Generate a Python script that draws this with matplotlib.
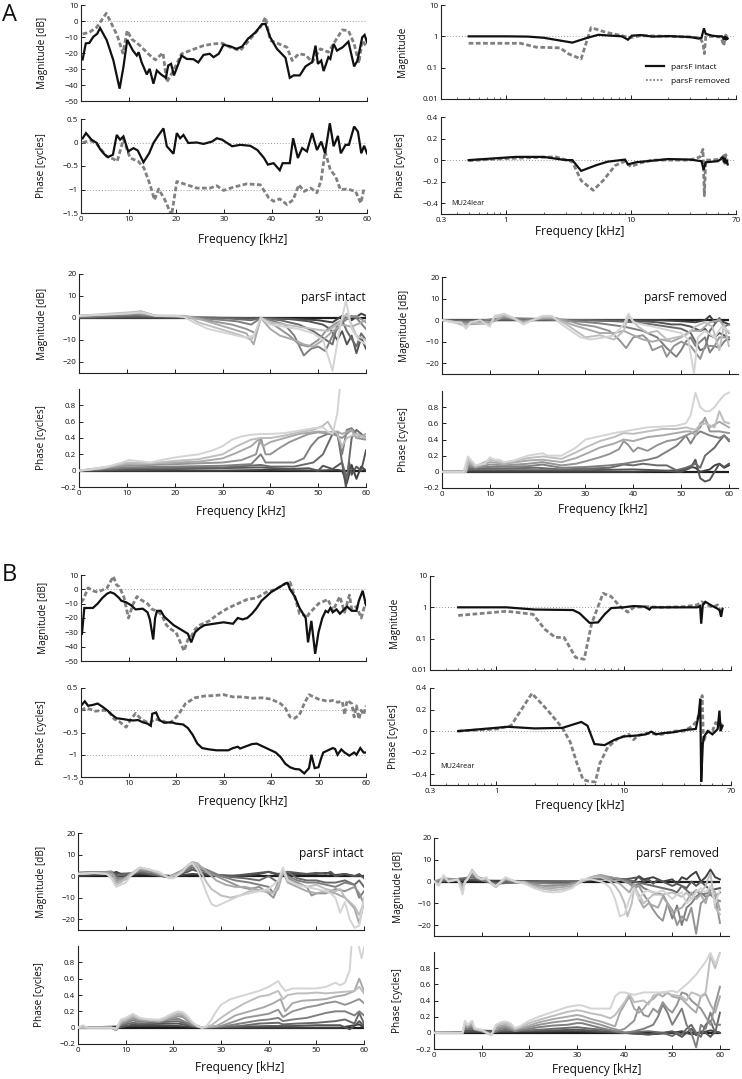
import matplotlib
matplotlib.use('Agg')
import matplotlib.pyplot as plt
from matplotlib.lines import Line2D
from matplotlib.ticker import FuncFormatter, NullLocator

plt.rcParams['font.family'] = ['Open Sans', 'DejaVu Sans']

# ---------------- DATA ----------------
FREQ_MIN, FREQ_MAX = 0, 60

# Panel A, linear frequency (kHz, value)
A_MAG_INTACT = [(0.35,-24),(1.0,-14),(1.75,-13.7),(2.6,-9.8),(3.4,-8),(4.0,-4.4),(5.4,-12),(6.8,-24.7),(8.1,-42.3),(8.9,-28.8),(9.7,-11.8),(10.9,-18.5),(11.7,-21.6),(12.1,-19.5),(12.7,-25.7),(13.8,-33.4),(14.4,-29.9),(15.2,-39.2),(15.9,-30.9),(16.8,-33.4),(17.8,-35.5),(18.3,-27.8),(18.9,-26.8),(19.5,-34),(21.1,-21.6),(22.2,-23.7),(23.6,-23.9),(24.6,-25.9),(25.7,-21.2),(27.0,-20.5),(27.8,-22.6),(28.9,-20.5),(29.9,-14.9),(31.3,-15.8),(32.6,-17.4),(33.8,-16),(35.0,-11.2),(36.6,-7.1),(38.0,-1.9),(38.7,-1.9),(39.7,-10.2),(41.1,-17.4),(42.9,-23),(43.8,-35.5),(44.6,-34),(45.9,-34),(47.1,-28.4),(48.5,-25.7),(49.2,-15.4),(49.7,-26.8),(50.4,-24.7),(50.9,-31.3),(51.9,-22.6),(52.3,-23.7),(53.0,-14.3),(53.7,-18.5),(54.9,-16.4),(56.1,-12.9),(57.3,-28.4),(58.0,-24.7),(59.0,-10.2),(59.5,-8.7),(60.0,-13.3)]
A_MAG_REMOVED = [(0.35,-8.1),(1.75,-7.1),(3.3,-3.9),(5.3,4.8),(6.1,0.2),(7.6,-9.1),(8.8,-20.1),(9.7,-6),(10.6,-11.2),(12.4,-15.4),(14.1,-20.5),(15.6,-24.3),(17.2,-19.9),(18.0,-38.2),(19.4,-30.9),(21.1,-20.5),(23.3,-18),(25.7,-15.4),(27.8,-14.3),(29.6,-13.9),(31.3,-16.4),(33.4,-18.5),(35.9,-9.8),(37.7,-3.5),(38.7,2.3),(39.7,-12.2),(41.5,-14.3),(43.2,-16.4),(44.3,-24.7),(45.7,-20.5),(47.1,-21.2),(48.5,-25.7),(50.2,-17.4),(51.9,-19.5),(53.4,-12.2),(54.8,-5.6),(56.1,-6),(57.3,-14.3),(58.3,-26.3),(59.0,-12.2),(60.0,-16.4)]
A_PH_INTACT = [(0.35,0.09),(1.05,0.2),(2.2,0.06),(3.3,-0.01),(4.0,-0.14),(5.0,-0.26),(5.7,-0.31),(6.7,-0.26),(7.5,0.16),(8.2,0.06),(8.9,0.13),(9.9,-0.19),(11.0,-0.12),(11.9,-0.17),(13.1,-0.42),(14.3,-0.23),(15.2,-0.01),(16.3,0.16),(17.3,0.3),(18.0,-0.08),(19.4,-0.24),(20.1,0.2),(20.8,0.09),(21.5,0.16),(22.5,-0.01),(24.3,0),(25.7,-0.03),(27.5,0.02),(28.5,0.09),(29.6,0.06),(31.7,-0.08),(33.4,-0.05),(35.5,-0.07),(37.0,-0.16),(38.4,-0.33),(39.2,-0.47),(40.4,-0.44),(41.7,-0.59),(42.3,-0.44),(43.8,-0.44),(44.5,0.09),(45.5,-0.33),(46.4,-0.12),(47.4,-0.19),(48.5,0.2),(49.5,-0.16),(50.4,0.02),(51.2,-0.23),(52.2,0.41),(53.0,-0.08),(53.9,0.14),(54.5,-0.23),(55.5,-0.05),(56.2,-0.05),(57.3,0.34),(58.1,0.23),(58.8,-0.23),(59.4,-0.07),(60.0,-0.23)]
A_PH_REMOVED = [(0.35,0),(2.0,0.04),(3.3,-0.03),(5.4,-0.3),(6.8,-0.35),(7.6,-0.4),(8.9,0.07),(10.3,-0.33),(12.0,-0.4),(13.2,-0.54),(14.5,-0.9),(15.4,-1.22),(16.3,-0.99),(17.6,-1.22),(19.0,-1.55),(20.1,-0.83),(22.2,-0.9),(24.3,-0.97),(27.1,-0.97),(28.5,-0.92),(29.9,-1.02),(32.0,-0.95),(34.8,-0.88),(37.6,-0.9),(39.4,-1.18),(40.4,-1.25),(41.7,-1.2),(43.2,-1.32),(44.5,-1.22),(45.7,-0.9),(46.8,-1.04),(48.2,-0.97),(49.5,-1.07),(50.4,-0.79),(51.2,-0.19),(52.3,-0.58),(53.4,-0.72),(54.4,-1.0),(55.9,-0.99),(57.6,-1.04),(58.7,-1.29),(59.4,-0.97)]

# Panel A, log frequency (kHz, value)
A_LOGMAG_INTACT = [(0.5,1.0),(1.0,1.0),(1.5,0.98),(2.0,0.9),(3.4,0.63),(4.5,0.9),(5.5,1.12),(7,1.05),(8.5,1.0),(9.5,0.78),(10.2,1.05),(12,1.1),(15,0.98),(20,1.02),(25,0.98),(30,0.95),(35,0.85),(37,0.9),(38.7,1.8),(40,1.2),(45,1.05),(50,1.0),(54,1.0),(56,0.8),(57,1.0),(58,0.75),(59,0.95),(60,0.85)]
A_LOGMAG_REMOVED = [(0.5,0.6),(1.3,0.6),(1.75,0.45),(2.7,0.43),(3.2,0.27),(4.0,0.19),(4.8,1.9),(6.3,1.35),(8.5,1.05),(9.9,0.9),(12,1.05),(20,1.0),(30,0.95),(36,0.9),(38,0.6),(39,0.28),(40,0.95),(45,1.0),(53,0.95),(56,0.5),(57,0.95),(58,1.1),(60,0.9)]
A_LOGPH_INTACT = [(0.5,0.0),(1.2,0.03),(2.0,0.03),(3.0,0.0),(3.4,0.0),(4.0,-0.1),(5.2,-0.05),(6.5,-0.015),(9.0,0.005),(9.5,-0.04),(11,-0.02),(15,-0.005),(20,0.01),(30,0.005),(37,-0.01),(38.5,-0.09),(40,-0.02),(50,-0.01),(53,0.01),(55,0.03),(56,-0.02),(57,0.02),(58,-0.03),(59,0.0),(60,-0.04)]
A_LOGPH_REMOVED = [(0.5,-0.005),(1.0,0.015),(2.5,0.03),(3.4,-0.015),(4.0,-0.19),(5.0,-0.28),(6.0,-0.19),(7.5,-0.05),(9.0,-0.01),(10.0,-0.06),(12,-0.025),(15,0.0),(30,0.0),(36,0.03),(38,0.1),(39,-0.33),(40,0.0),(45,0.0),(52,0.01),(55,0.03),(56,0.06),(57,-0.03),(58,0.05),(59,-0.01),(60,0.02)]

# Panel B, linear frequency
B_MAG_INTACT = [(0.2,-31),(0.7,-13),(1,-13),(2.5,-13),(3.5,-10),(4.5,-6),(5.5,-3),(6.2,-2),(7,-3),(8,-6),(8.5,-8),(9.5,-9),(10.5,-11),(11.5,-14),(13,-13.5),(14,-16),(14.5,-21),(15.2,-35),(15.6,-20),(16,-15),(16.8,-15),(17.5,-19),(18.5,-22),(19.5,-25),(20.5,-27),(21.5,-29),(22.5,-31),(23.2,-37),(24,-30),(25,-27),(26,-25),(28,-24),(30,-23),(32,-24),(33,-20),(34,-21),(35,-20),(36,-17),(37,-13),(38,-8),(39,-5),(40,-2),(41,0),(42,2),(43,4),(43.5,4.5),(44,0),(45,-5),(46,-13),(47.3,-20),(47.8,-37),(48.5,-22),(49.3,-45),(50,-30),(50.8,-20),(51.5,-15),(52,-16),(52.5,-13),(53,-16),(53.8,-14),(54.5,-17),(56,-12),(57,-15),(58,-15),(58.5,-8),(59.3,-1),(60,-11)]
B_MAG_REMOVED = [(0,-9),(0.5,-7),(1.5,1),(2.5,-1),(3.5,-2),(5.5,1),(6.8,9),(7.5,3),(8,2),(9,-5),(10,-20),(11,-10),(11.8,-5),(12.5,-7),(14,-10),(15,-14),(16,-15),(17,-18),(18,-25),(19,-28),(20,-30),(21.7,-43),(22.5,-35),(23,-34),(24,-28),(25,-25),(27,-22),(29,-17),(31,-13),(33,-10),(35,-7),(37,-6),(39,-2),(41,0),(43,4),(44,5),(45,-5),(46,-17),(47,-18),(47.5,-20),(48,-17),(50,-10),(52,-7),(53,-15),(54.5,-5),(55.5,-16),(56.5,-4),(57,-14),(58,-12),(59,-20),(60,-8)]
B_PH_INTACT = [(0,0.1),(0.8,0.2),(1.5,0.1),(2.5,0.12),(3.5,0.15),(4.5,0.08),(5.5,0),(6.5,-0.1),(7.5,-0.18),(9,-0.2),(10,-0.22),(11,-0.23),(12,-0.22),(13,-0.27),(14,-0.3),(14.7,-0.35),(15,-0.08),(15.8,-0.05),(16.5,-0.22),(17.5,-0.28),(19,-0.27),(20,-0.3),(21.5,-0.32),(22.5,-0.4),(23.5,-0.55),(24.5,-0.75),(25.5,-0.85),(27,-0.88),(28.5,-0.9),(30,-0.9),(31,-0.9),(32,-0.85),(33,-0.82),(33.5,-0.86),(35,-0.8),(36,-0.76),(37,-0.75),(38,-0.8),(39,-0.85),(40,-0.9),(41,-0.95),(42,-1.05),(43,-1.2),(44,-1.28),(45,-1.32),(46,-1.33),(47,-1.42),(48,-1.3),(48.5,-1.0),(49.2,-1.3),(50,-1.28),(50.5,-1.1),(51,-0.95),(52,-0.9),(53,-0.85),(53.5,-0.87),(54,-1.0),(54.8,-0.88),(55.5,-0.95),(56.5,-1.02),(57.5,-0.95),(58,-1.0),(58.8,-0.85),(59.5,-0.95),(60,-0.95)]
B_PH_REMOVED = [(0,0),(1,0.05),(2,0.02),(3,-0.02),(5,0),(6,-0.05),(7,-0.2),(8,-0.25),(9.5,-0.38),(10.5,-0.2),(11.5,-0.07),(12.5,-0.18),(13.5,-0.25),(14.5,-0.28),(15.5,-0.2),(16.5,-0.22),(17.5,-0.25),(18.5,-0.3),(19.5,-0.22),(20.5,-0.1),(22,0.15),(24,0.28),(26,0.32),(28,0.33),(30,0.35),(32,0.3),(34,0.3),(36,0.27),(38,0.28),(40,0.25),(42,0.15),(43,0.05),(44,-0.15),(45,-0.18),(46,-0.1),(47,0.15),(48,0.35),(49,0.3),(50,0.25),(52,0.2),(53,0.22),(54,0.18),(55,0.2),(55.5,-0.1),(56,0.22),(57,0.15),(57.5,-0.15),(58,0.1),(58.5,-0.2),(59,0.0),(59.5,-0.1),(60,0.1)]

# Panel B, log frequency
B_LOGMAG_INTACT = [(0.5,1.0),(1.2,1.0),(2,0.85),(4,0.82),(4.5,0.65),(5.4,0.32),(6.3,0.33),(7.1,0.6),(8,0.95),(10,1.0),(12,1.1),(14.6,1.05),(16,0.85),(16.5,1.0),(25,1.0),(35,1.0),(38,1.0),(40,1.1),(40.8,0.3),(42,1.2),(44,1.5),(50,1.1),(55,0.9),(57,0.8),(58.5,0.5),(60,0.9)]
B_LOGMAG_REMOVED = [(0.5,0.55),(1.2,0.75),(1.94,0.6),(2.4,0.2),(2.9,0.11),(3.4,0.11),(4.2,0.025),(4.9,0.022),(5.6,0.3),(6.9,2.8),(8.0,2.2),(9.3,1.1),(10.8,0.7),(12,1.0),(15,1.05),(20,1.0),(30,1.05),(38,1.2),(41,1.5),(44,1.3),(50,1.0),(55,1.2),(58,0.7),(60,0.75)]
B_LOGPH_INTACT = [(0.5,0.0),(1.23,0.04),(2.0,0.025),(3.3,0.03),(4.65,0.085),(5.2,0.05),(5.9,-0.12),(7.1,-0.13),(8.5,-0.08),(10,-0.05),(13,-0.04),(15,-0.03),(16.5,-0.005),(18,-0.03),(20,-0.02),(25,-0.01),(30,0.01),(37,0.02),(39,0.15),(40.1,0.3),(40.8,-0.47),(42,-0.12),(43,-0.05),(46,0.0),(50,-0.03),(53,0.0),(55,0.02),(56.8,0.19),(58,0.0),(60,0.05)]
B_LOGPH_REMOVED = [(0.5,0.0),(1.0,0.02),(1.3,0.05),(1.9,0.35),(2.5,0.2),(3.3,0.03),(3.8,-0.1),(4.3,-0.3),(4.8,-0.45),(5.5,-0.47),(6.0,-0.47),(6.5,-0.3),(7.5,-0.15),(9,-0.07),(11,-0.03),(12,-0.08),(13,-0.04),(15,-0.02),(20,-0.03),(25,0.0),(30,0.0),(35,0.05),(38,0.1),(40,0.2),(41.5,0.33),(42.5,-0.1),(44,-0.05),(46,0.0),(50,0.0),(53,0.08),(55,0.05),(57,0.1),(60,0.02)]

# Families: index 0 = lightest ... 7 = darkest
A_INT_MAG = [
 [(0,1),(5,1.5),(10,2),(13,2.5),(16,1),(20,1),(22,0.5),(24,-2),(27,-5),(30,-6.5),(33,-8),(35,-9),(36.5,-8),(38,0),(40,-3),(43,-4),(46,-5),(49,-7),(51,-10),(53,-24),(54.5,-5),(55.8,8),(57,-5),(58.5,-10),(60,-12)],
 [(0,1),(10,2.5),(13,3),(16,1),(20,1),(23,0.5),(25,-2),(28,-4),(31,-6),(34,-8),(36,-10),(37,-6),(38,0),(40,-2),(43,-3),(46,-4),(49,-5),(52,-6),(54,-3),(56,2),(58,-8),(60,-10)],
 [(0,1),(10,2),(13,3),(16,1),(22,1),(26,-1),(29,-3),(32,-5),(35,-7),(36.5,-12),(38,0),(40,-5),(42,-8),(45,-10),(47,-12),(49,-13),(51,-10),(53,-6),(55,-3),(57,-4),(59,-2),(60,-1)],
 [(0,1),(12,2),(16,1),(24,0.5),(28,-1.5),(32,-3),(35,-5),(37,-7),(38,0),(40,-2),(42,-5),(44,-8),(46,-12),(48,-13),(50,-10),(52,-5),(54,-2),(56,0),(58,1),(60,-2)],
 [(0,0.5),(12,1.5),(20,0.5),(28,-0.5),(33,-1.5),(36,-3),(38,0),(40,-1),(43,-3),(45,-8),(47,-17),(48.5,-14),(50,-13),(51.5,-15),(53,-8),(55,-2),(57,1),(58,0),(60,-5)],
 [(0,0.3),(12,1),(30,0),(36,-1),(38,0),(42,-1),(46,-3),(49,-6),(51,-9),(53,-12),(54,-3),(55,-1),(56,-6),(58,-13),(59,-7),(60,-10)],
 [(0,0.2),(12,0.5),(35,0),(44,-0.5),(48,-1.5),(51,-3),(52.5,-5),(54,-10),(55,-6),(56,-12),(57,-8),(58,-16),(59,-9),(60,-14)],
 [(0,0),(40,0),(46,-0.5),(50,-1),(53,-2),(55,1),(57,-1),(59,2),(60,1)],
]
A_INT_PH = [
 [(0,0),(3,0.02),(6,0.05),(9,0.1),(10.5,0.13),(12,0.12),(15,0.1),(18,0.14),(21,0.17),(25,0.2),(28,0.25),(30,0.3),(32,0.38),(34,0.42),(36,0.44),(38,0.45),(40,0.45),(43,0.46),(46,0.49),(49,0.52),(51,0.53),(52,0.48),(53,0.45),(54,0.7),(55,1.3)],
 [(0,0),(5,0.03),(10,0.1),(15,0.09),(20,0.12),(25,0.14),(30,0.2),(33,0.3),(36,0.38),(38,0.4),(40,0.4),(43,0.43),(46,0.47),(49,0.5),(51,0.55),(52,0.6),(53,0.5),(54,0.45),(55,0.3),(56,0.4),(58,0.45),(60,0.4)],
 [(0,0),(10,0.08),(20,0.1),(25,0.11),(30,0.15),(33,0.22),(36,0.3),(37.5,0.38),(38.5,0.3),(40,0.35),(43,0.4),(46,0.45),(50,0.48),(52,0.47),(54,0.48),(55,0.45),(57,0.5),(58,0.4),(60,0.45)],
 [(0,0),(10,0.06),(20,0.08),(30,0.1),(34,0.13),(37,0.2),(38,0.4),(39,0.2),(40,0.2),(42,0.28),(44,0.35),(46,0.4),(48,0.45),(50,0.47),(53,0.45),(55,0.4),(57,0.5),(58,0.4),(60,0.38)],
 [(0,0),(10,0.04),(20,0.05),(30,0.06),(36,0.08),(38,0.2),(39,0.1),(42,0.1),(45,0.1),(47,0.15),(48.5,0.3),(50,0.4),(52,0.45),(54,0.45),(55,0.2),(56,0.5),(57,0.52),(58,0.45),(60,0.4)],
 [(0,0),(10,0.03),(30,0.04),(38,0.07),(40,0.05),(45,0.05),(49,0.1),(51,0.2),(53,0.45),(54,0.47),(55,0.1),(56,-0.1),(57,0.4),(58,0.5),(59,0.45),(60,0.4)],
 [(0,0),(20,0.02),(38,0.04),(44,0.02),(48,0.03),(50,0.0),(51,0.06),(52,0.04),(53,0.02),(55,0.1),(55.8,-0.2),(56.5,0.1),(57,-0.05),(58,0.05),(59,0.0),(60,0.25)],
 [(0,0),(30,0.0),(40,0.01),(50,0.0),(54,0.01),(55,0.0),(56,-0.15),(57,0.07),(58,-0.1),(59,0.05),(60,0.0)],
]
A_REM_MAG = [
 [(0,0),(2,-1),(4,-1),(5,-4),(6,-1),(8,0),(10,-3),(11,2),(13,3),(15,1),(17,-2),(19,0),(21,2),(23,2),(25,-2),(27,-5),(29,-8),(31,-9),(34,-8),(36,-7),(38,-2),(39,3),(40,-1),(42,-2),(44,-3),(46,-4),(48,-5),(50,-6),(51.5,-9),(52.7,-25),(53.5,-8),(55,-5),(57,-8),(58.5,-3),(60,-5)],
 [(0,0),(2,-0.5),(5,-3),(6,-1),(10,-2),(11,1.5),(13,2.5),(15,1),(17,-1.5),(19,0),(21,1.5),(23,1.5),(26,-2),(28,-5),(30,-8),(33,-7),(36,-9),(38,-5),(39,2),(41,-3),(43,-6),(45,-5),(47,-9),(49,-8),(51,-7),(53,-3),(55,-1),(56.5,-3),(58,-14),(59,-2),(60,-12)],
 [(0,0),(5,-2),(10,-1.5),(13,2),(17,-1),(21,1),(24,1),(27,-2),(30,-4),(33,-6),(36,-6),(38,-5),(40,-7),(42,-9),(44,-10),(46,-9),(48,-10),(50,-8),(52,-5),(54,-5),(56,-1),(58,0),(60,-6)],
 [(0,0),(5,-1.5),(10,-1),(13,1.5),(17,-0.5),(22,1),(26,0),(29,-2),(32,-3),(35,-5),(37,-9),(38.5,-13),(40,-8),(42,-7),(43,-9),(44,-14),(46,-12),(47,-17),(48.5,-12),(50,-10),(52,-12),(54,-18),(55,-12),(57,-12),(58,-8),(60,-8)],
 [(0,0),(5,-1),(13,1),(22,0.5),(28,-0.5),(33,-1.5),(38,-3),(42,-5),(45,-8),(47,-13),(48,-15),(49,-17),(50,-14),(51,-10),(52,-8),(53,-12),(55,-8),(56,-15),(57,-12),(58,-13),(59,-10),(60,-8)],
 [(0,0),(5,-0.5),(13,0.5),(30,0),(36,-0.5),(40,-1),(44,-2),(47,-3),(50,-4),(52,-6),(53,-10),(54,-14),(55,-13),(56,-5),(57,-2),(58,1),(59,-3),(60,-2)],
 [(0,0),(30,0),(40,-0.3),(45,-1),(48,-2),(50,-2),(52,-3),(54,-5),(55,-4),(56,-7),(57,-8),(58,-6),(59,-7),(60,-9)],
 [(0,0),(40,0),(45,0),(50,-0.5),(53,-1),(55,0),(56,2),(57,-1),(58,0),(59,-1),(60,-2)],
]
A_REM_PH = [
 [(0,0),(4.5,0),(5.4,0.19),(7,0.08),(9,0.1),(10,0.18),(11,0.15),(12,0.15),(13,0.12),(15,0.14),(18,0.2),(20,0.22),(21,0.23),(22,0.2),(25,0.2),(28,0.3),(30,0.4),(33,0.44),(36,0.48),(38,0.5),(40,0.52),(43,0.55),(46,0.56),(49,0.57),(51,0.6),(52,0.7),(53,0.98),(54,0.8),(55,0.75),(56,0.75),(57,0.8),(58,0.88),(59,0.95),(60,0.98)],
 [(0,0),(5,0),(5.5,0.15),(7,0.07),(10,0.15),(13,0.11),(18,0.17),(21,0.19),(25,0.16),(28,0.24),(30,0.3),(33,0.38),(36,0.43),(38,0.48),(40,0.47),(43,0.5),(46,0.53),(49,0.53),(51,0.55),(53,0.52),(54,0.58),(55,0.6),(57,0.55),(58,0.75),(59,0.62),(60,0.6)],
 [(0,0),(5,0),(5.5,0.12),(7,0.06),(10,0.12),(13,0.1),(18,0.14),(21,0.15),(25,0.12),(28,0.17),(30,0.22),(33,0.3),(36,0.35),(38,0.4),(40,0.38),(43,0.43),(46,0.45),(49,0.48),(51,0.5),(52,0.5),(53,0.45),(54,0.6),(55,0.65),(56,0.55),(58,0.62),(60,0.55)],
 [(0,0),(5,0),(5.5,0.09),(7,0.05),(10,0.09),(13,0.08),(18,0.1),(21,0.12),(25,0.08),(28,0.1),(30,0.13),(33,0.18),(35,0.22),(37,0.28),(38,0.38),(39,0.33),(40,0.25),(41,0.3),(43,0.26),(45,0.33),(47,0.38),(49,0.4),(51,0.45),(53,0.5),(54,0.55),(55,0.67),(56,0.5),(58,0.5),(60,0.48)],
 [(0,0),(5,0),(5.5,0.06),(10,0.06),(18,0.07),(21,0.09),(25,0.05),(30,0.06),(35,0.08),(38,0.1),(40,0.12),(43,0.15),(45,0.18),(47,0.25),(49,0.32),(50,0.38),(51,0.45),(52,0.35),(53,0.45),(54,0.5),(56,0.45),(58,0.42),(59,0.45),(60,0.4)],
 [(0,0),(5,0),(5.5,0.04),(10,0.04),(20,0.05),(25,0.03),(35,0.05),(38,0.09),(40,0.08),(42,0.1),(45,0.08),(47,0.08),(49,0.02),(51,0.05),(53,0.1),(54,0.05),(55,0.2),(56,0.25),(57,0.3),(58,0.38),(59,0.45),(60,0.38)],
 [(0,0),(5,0),(5.5,0.02),(10,0.02),(30,0.02),(40,0.03),(45,0.02),(50,0.0),(52,0.05),(53,0.15),(54,-0.08),(55,-0.12),(56,-0.1),(57,0.0),(58,0.1),(59,0.06),(60,0.1)],
 [(0,0),(20,0.0),(40,0.0),(50,0.02),(52,0.06),(53,0.05),(54,0.0),(56,0.03),(57,0.08),(58,0.1),(59,0.05),(60,0.08)],
]
B_INT_MAG = [
 [(0,1),(3,1.5),(6,1),(7,-1),(8,-5),(9,-4),(10,-3),(11,0),(12,2),(13,4),(15,3),(17,2),(19,-1),(20,-1),(22,2),(23,5),(24,6),(25,3),(26,-2),(27,-8),(28,-13),(29,-14),(30,-13),(32,-11),(34,-9),(36,-8),(38,-7),(40,-6),(41,-4),(42,-2),(43,4),(44,-2),(46,-4),(48,-5),(50,-6),(52,-7),(53,-8),(54,-10),(55,-17),(56,-12),(57,-20),(58,-24),(59,-23),(60,-10)],
 [(0,1),(3,1.5),(6,1),(7,0),(8,-4),(9,-3),(11,1),(13,4),(15,3),(17,1.5),(19,-0.5),(21,1),(23,5),(24,6.5),(25,5),(26,1),(27,-3),(28,-6),(30,-9),(32,-10),(34,-9),(36,-7),(38,-7),(40,-7),(41,-8),(42,-4),(43,3),(44,-2),(46,-4),(48,-5),(50,-4),(52,-6),(54,-7),(55,-6),(56,-10),(57,-12),(58,-14),(59,-18),(60,-12)],
 [(0,1),(6,1.5),(7.5,0.5),(8,-3),(10,-1.5),(12,2),(13,3.5),(15,3),(17,1),(19,-0.5),(21,1),(23,4.5),(24,6.5),(25,6),(27,2),(29,-2),(31,-4),(33,-5),(35,-5),(37,-6),(39,-7),(41,-8),(42,-6),(43,2),(44,-3),(46,-5),(48,-7),(50,-8),(52,-7),(54,-8),(56,-10),(58,-15),(59,-22),(60,-12)],
 [(0,1.5),(7,2),(8,-2),(10,-1),(13,3),(15,2.5),(19,-0.5),(23,4),(24,6),(26,4),(28,1),(30,-1),(32,-3),(34,-5),(36,-6),(38,-5),(40,-8),(41,-10),(42,-5),(43,3),(44,-1),(46,-3),(48,-5),(49,-9),(50,-8),(52,-8),(54,-6),(56,-7),(58,-5),(59,-8),(60,-13)],
 [(0,1.5),(7,2),(8,-1),(10,-0.5),(13,2.5),(15,2),(19,-0.5),(23,3.5),(24,5),(27,3),(30,0),(33,-2),(36,-3),(38,-4),(40,-5),(41,-8),(42,-3),(43,2),(44,0),(46,-2),(48,-3),(50,-3),(52,-4),(54,-5),(56,-3),(58,-4),(59,-10),(60,-7)],
 [(0,1.5),(7,2),(8,0),(13,2),(19,-0.5),(23,3),(24,4),(27,2),(30,0),(35,-1),(38,-2),(40,0),(42,-3),(43,1),(44,2),(46,-1),(48,-2),(50,-2),(52,-3),(54,-3),(56,-2),(58,-4),(59,-2),(60,-5)],
 [(0,1.5),(7,2),(8,1),(13,1.5),(19,-0.5),(23,2),(24,3),(27,1),(32,0),(36,1),(38,1.5),(40,2),(42,1),(44,2),(46,1.5),(48,1),(50,1.5),(52,1),(53,2),(54,0),(56,1),(58,0),(59,1),(60,-1)],
 [(0,0),(7,1),(8,2),(10,0),(13,1),(20,0),(24,1),(27,0.5),(35,0),(38,1),(40,2),(42,0.5),(44,1),(50,1),(52,1.5),(54,0.5),(56,1),(58,0),(60,0)],
]
B_INT_PH = [
 [(0,0),(1,0.03),(2,0.0),(7,0.0),(8,-0.01),(9,0.1),(10,0.12),(11.5,0.17),(13,0.12),(15,0.1),(17,0.1),(18,0.12),(20,0.18),(21,0.2),(22,0.19),(23,0.14),(24,0.07),(25,0.02),(26,0.0),(27,0.02),(28,0.1),(29,0.2),(30,0.28),(32,0.35),(35,0.4),(38,0.45),(40,0.5),(42,0.57),(42.5,0.52),(43.5,0.45),(45,0.48),(48,0.48),(50,0.48),(52,0.5),(54,0.55),(55,0.52),(56,0.55),(57,0.7),(57.5,1.1),(58.5,1.1),(59.5,0.85),(60,0.98)],
 [(0,0),(7,0.0),(8,-0.02),(9,0.08),(10,0.1),(11.5,0.15),(13,0.11),(15,0.1),(17,0.09),(18,0.1),(20,0.16),(21,0.18),(22,0.17),(23,0.12),(24,0.06),(25,0.02),(26,0.0),(28,0.03),(30,0.12),(32,0.2),(35,0.3),(38,0.38),(40,0.4),(42,0.45),(43,0.35),(44,0.4),(46,0.42),(48,0.42),(50,0.43),(52,0.42),(54,0.43),(56,0.44),(58,0.45),(59,0.5),(60,0.42)],
 [(0,0),(7,0.0),(8,-0.03),(9,0.06),(11.5,0.13),(13,0.1),(17,0.08),(20,0.14),(21,0.16),(22,0.15),(24,0.05),(26,0.0),(29,0.02),(31,0.08),(33,0.15),(36,0.2),(39,0.25),(41,0.3),(42.5,0.35),(43.5,0.2),(45,0.3),(47,0.33),(50,0.34),(52,0.35),(54,0.38),(56,0.4),(58,0.45),(59,0.6),(60,0.45)],
 [(0,0),(7,0.0),(8,-0.03),(9,0.05),(11.5,0.11),(13,0.09),(17,0.07),(20,0.12),(21,0.14),(22,0.13),(24,0.04),(26,0.0),(30,0.02),(32,0.06),(35,0.12),(38,0.15),(40,0.17),(42,0.22),(43,0.13),(45,0.2),(48,0.25),(50,0.27),(52,0.3),(54,0.32),(56,0.28),(57,0.3),(59,0.35),(60,0.3)],
 [(0,0),(7,0.0),(8,-0.03),(9,0.04),(11.5,0.09),(13,0.07),(20,0.1),(21,0.11),(24,0.03),(26,0.0),(32,0.03),(35,0.06),(38,0.09),(40,0.1),(42,0.12),(43,0.08),(45,0.1),(48,0.12),(50,0.15),(52,0.18),(54,0.2),(56,0.2),(58,0.15),(59,0.2),(60,0.15)],
 [(0,0),(7,0.0),(8,-0.02),(9,0.03),(11.5,0.06),(13,0.05),(21,0.08),(24,0.02),(26,0.0),(34,0.02),(38,0.05),(42,0.06),(43,0.04),(46,0.05),(50,0.06),(54,0.08),(56,0.1),(58,0.05),(59,0.18),(60,0.05)],
 [(0,0),(7,0.0),(8,-0.01),(11.5,0.04),(21,0.05),(26,0.0),(40,0.02),(45,0.02),(50,0.03),(55,0.03),(57,-0.02),(58,0.02),(59,0.08),(60,0.02)],
 [(0,0),(11.5,0.02),(21,0.02),(26,0.0),(40,0.0),(50,0.0),(55,0.0),(57,0.02),(59,0.04),(60,0.0)],
]
B_REM_MAG = [
 [(0,0),(1,-2),(2,3),(3,0),(5,1),(6,-6),(6.5,0),(7,1),(8,5),(9,2),(10,1),(11,2),(12,-1),(13,-2),(14,0),(15,2),(16,1),(17,0),(19,-1),(21,-3),(23,-4.5),(25,-5),(27,-4.5),(29,-3),(30,-1),(31,1),(33,1),(35,0),(36,-1),(37,-3),(38,-8),(39,-16),(40,-15),(41,-8),(42,-3),(43,-8),(44,-5),(45,-4),(46,-5),(47,-5),(48,-4),(49,-6),(50,-8),(51,-6),(52,-5),(53,-10),(54,-8),(55,-5),(56,-3),(57,-5),(58,-2),(59,-10),(60,-4)],
 [(0,0),(1,-1.5),(2,2.5),(3,0),(5,1),(6,-4),(6.5,0),(7,1),(8,5.5),(9,2.5),(10,1),(11,1.5),(12,-1),(13,-2.5),(14,-0.5),(15,1.5),(17,0),(19,-0.5),(21,-2.5),(23,-3.5),(25,-4),(27,-3.5),(29,-2.5),(31,0),(33,2),(35,2),(37,0),(38,-2),(39,-5),(40,-10),(40.6,-16),(41.5,-10),(42,-3),(43,-6),(44,-10),(45,-8),(46,-6),(48,-6),(50,-5),(52,-7),(53,-5),(54,-8),(55,-4),(56,-5),(57,-2),(58,4),(59,-12),(60,-15)],
 [(0,0),(1,-1),(2,2),(3,0.5),(5,1),(6,-3),(7,1.5),(8,5),(9,2.5),(10,1),(11,1),(12,-1),(13,-2.5),(15,1.5),(17,0),(19,0),(21,-2),(23,-3),(25,-3),(27,-2.5),(29,-2),(31,0),(33,2),(35,3),(37,1),(39,-1),(41,-5),(42,-1),(43,-8),(44,-12),(45,-10),(46,-11),(47,-12),(48,-7),(49,-10),(50,-14),(52,-12),(53,-9),(54,-5),(55,-8),(56,-6),(57,-10),(58,-2),(59,-5),(60,-13)],
 [(0,0),(2,1.5),(5,1),(6,-2),(7,1.5),(8,4),(9,2),(11,1),(13,-2),(15,1),(17,0),(20,-1),(23,-2),(25,-2),(28,-1.5),(31,0),(33,2),(35,3),(37,2),(39,1),(41,-1),(42,-3),(43,-2),(44,-6),(45,-9),(46,-13),(47,-16),(48,-18),(49,-10),(50,-13),(51,-20),(52,-16),(53,-18),(54,-12),(55,-24),(56,-10),(57,-8),(58,-5),(59,-7),(60,-19)],
 [(0,0),(2,1),(5,0.5),(6,-1.5),(7,1),(8,3),(9,1.5),(13,-1.5),(15,0.5),(20,-0.5),(25,-1),(28,-1),(31,0),(33,1.5),(35,2),(37,2),(39,1),(41,0),(42,-2),(43,-1),(44,-3),(46,-5),(48,-6),(49,-10),(50,-17),(51,-11),(52,-20),(53,-12),(54,-10),(55,-7),(56,-5),(57,-7),(58,-6),(59,-8),(60,-9)],
 [(0,0),(2,0.5),(8,2),(13,-1),(20,0),(30,0),(33,1),(36,1.5),(40,1),(42,0),(44,-1),(46,-2),(48,-3),(50,-4),(51,-5),(52,-2),(53,-4),(54,-6),(55,-4),(56,-6),(58,-5),(59,-7),(60,-5)],
 [(0,0),(8,1),(13,-0.5),(30,0),(35,1.5),(38,1.5),(40,1),(43,2),(44,0),(45,1),(46,-1),(47,1),(48,0),(49,-1),(50,-2),(51,-1),(53,-3),(54,0),(55,-2),(56,0),(58,-4),(60,-3)],
 [(0,0),(8,0.5),(30,0),(35,1),(40,1),(42,0),(43,2.5),(44,1),(46,2),(47,1),(48,0),(50,1),(51,-1),(52,2),(53,1),(54,3),(55,4.5),(56,0),(57,2),(58,5.5),(59,2),(60,1)],
]
B_REM_PH = [
 [(0,0),(6,0),(6.5,0.15),(7,0.1),(8,0.15),(8.5,0.06),(9,0.05),(10,0.04),(12,-0.03),(13,0.1),(14,0.13),(15,0.14),(16,0.12),(17,0.06),(18,0.08),(20,0.15),(22,0.2),(25,0.26),(28,0.32),(30,0.34),(31,0.34),(33,0.3),(35,0.3),(37,0.3),(38,0.45),(39,0.5),(40,0.5),(42,0.47),(44,0.5),(46,0.5),(48,0.5),(50,0.52),(51,0.5),(53,0.6),(55,0.72),(57,0.88),(58,0.99),(59,0.85),(60,0.98)],
 [(0,0),(6,0),(6.5,0.13),(7,0.09),(8,0.13),(8.5,0.05),(10,0.03),(12,-0.03),(13,0.08),(14,0.11),(15,0.12),(16,0.1),(17,0.05),(18,0.07),(20,0.12),(22,0.16),(25,0.21),(28,0.26),(30,0.28),(31,0.27),(33,0.24),(35,0.22),(37,0.18),(38,0.22),(39,0.3),(40,0.38),(41,0.48),(42,0.38),(44,0.4),(45,0.35),(46,0.46),(47,0.48),(48,0.5),(50,0.47),(52,0.45),(53,0.4),(54,0.5),(55,0.48),(56,0.45),(57,0.5),(58,0.95),(59,0.8),(60,1.0)],
 [(0,0),(6,0),(6.5,0.11),(7,0.08),(8,0.11),(8.5,0.05),(10,0.03),(12,-0.02),(13,0.07),(14,0.09),(15,0.1),(17,0.04),(18,0.06),(20,0.09),(22,0.13),(25,0.17),(28,0.2),(30,0.22),(31,0.21),(33,0.17),(35,0.14),(37,0.1),(38,0.08),(39,0.25),(40,0.35),(41,0.45),(42,0.3),(43,0.25),(44,0.3),(45,0.38),(46,0.42),(47,0.48),(48,0.45),(49,0.5),(50,0.45),(52,0.42),(54,0.3),(55,0.25),(56,0.45),(57,0.48),(58,0.35),(59,0.25),(60,0.45)],
 [(0,0),(6,0),(6.5,0.09),(7,0.06),(8,0.09),(8.5,0.04),(10,0.02),(12,-0.02),(13,0.05),(14,0.07),(15,0.08),(17,0.03),(18,0.05),(20,0.07),(22,0.1),(25,0.13),(28,0.15),(30,0.17),(31,0.16),(33,0.13),(35,0.1),(37,0.06),(39,0.03),(40,0.05),(42,0.15),(43,0.32),(44,0.22),(45,0.2),(46,0.3),(47,0.25),(48,0.38),(49,0.3),(50,0.25),(51,0.35),(52,0.5),(53,0.48),(54,0.4),(55,0.35),(56,0.3),(57,0.2),(58,0.1),(59,0.35),(60,0.57)],
 [(0,0),(6,0),(6.5,0.07),(8,0.07),(10,0.02),(12,-0.01),(14,0.05),(15,0.06),(17,0.02),(20,0.05),(22,0.07),(25,0.09),(28,0.1),(30,0.12),(31,0.12),(33,0.09),(35,0.06),(38,0.02),(40,0.0),(42,0.02),(44,0.05),(46,0.1),(47,0.2),(48,0.35),(49,0.25),(50,0.1),(51,0.2),(52,0.3),(53,0.1),(54,0.0),(55,-0.18),(56,0.1),(57,0.05),(58,0.25),(59,0.1),(60,0.1)],
 [(0,0),(6,0),(6.5,0.05),(8,0.05),(12,0.0),(15,0.04),(20,0.03),(25,0.05),(30,0.07),(33,0.05),(37,0.03),(40,0.0),(45,0.02),(48,0.0),(50,-0.04),(51,0.0),(52,-0.02),(53,0.05),(54,0.1),(55,0.0),(56,-0.05),(57,0.1),(58,0.15),(59,0.0),(60,0.25)],
 [(0,0),(6,0),(6.5,0.03),(8,0.03),(15,0.02),(25,0.03),(30,0.04),(35,0.02),(40,0.0),(45,-0.02),(48,0.0),(50,0.02),(52,-0.05),(53,0.0),(54,0.05),(55,-0.03),(56,0.02),(57,0.0),(58,-0.05),(59,0.02),(60,0.0)],
 [(0,0),(8,0.01),(30,0.02),(40,0.0),(45,-0.02),(50,0.0),(52,0.02),(54,-0.02),(56,0.0),(58,0.03),(60,0.0)],
]

FAMILY_COLORS = ['#d4d4d4', '#bebebe', '#a9a9a9', '#949494', '#7f7f7f', '#6a6a6a', '#555555', '#404040']
LIN_TICKS = [0, 10, 20, 30, 40, 50, 60]
LOG_TICKS = [0.3, 1, 10, 70]
MAG_DB_TICKS = [10, 0, -10, -20, -30, -40, -50]
PH_TICKS = [0.5, 0, -0.5, -1, -1.5]
LOGMAG_TICKS = [10, 1, 0.1, 0.01]
LOGPH_TICKS = [0.4, 0.2, 0, -0.2, -0.4]
FAM_MAG_TICKS = [20, 10, 0, -10, -20]
FAM_PH_TICKS = [-0.2, 0, 0.2, 0.4, 0.6, 0.8]

# ---------------- FIGURE ----------------
W, H = 742, 1079
fig = plt.figure(figsize=(W / 100, H / 100), dpi=100)

TICK_FS = 5.8
YLAB_FS = 7.2
XLAB_FS = 8.6
SPINE_C = '#222222'


def fmt(v, pos):
    return ('%g' % v).replace('-', '\u2212')


def add_ax(l, r, t, b, ylabel, ylab_x, xlabel=None, xlab_xy=None, log=False):
    ax = fig.add_axes([l / W, 1 - b / H, (r - l) / W, (b - t) / H])
    for s in ['top', 'right']:
        ax.spines[s].set_visible(False)
    for s in ['left', 'bottom']:
        ax.spines[s].set_linewidth(0.8)
        ax.spines[s].set_color(SPINE_C)
    if log:
        ax.set_xscale('log')
    ax.tick_params(which='major', direction='in', length=3, width=0.7,
                   labelsize=TICK_FS, pad=2, colors=SPINE_C, labelcolor='#111111')
    ax.tick_params(which='minor', direction='in', length=1.8, width=0.5, colors=SPINE_C)
    ax.set_ylabel(ylabel, fontsize=YLAB_FS, color='#111111')
    ax.yaxis.set_label_coords((ylab_x - l) / (r - l), 0.5)
    if xlabel:
        ax.set_xlabel(xlabel, fontsize=XLAB_FS, color='#111111')
        cx, cy = xlab_xy
        ax.xaxis.set_label_coords((cx - l) / (r - l), (b - cy) / (b - t))
        ax.xaxis.label.set_va('center')
    return ax


def pl(ax, pairs, **kw):
    f = [p[0] for p in pairs]
    v = [p[1] for p in pairs]
    ax.plot(f, v, **kw)


SOLID = dict(color='#111111', lw=1.6, solid_joinstyle='miter')
DASH = dict(color='#808080', lw=2.0, dashes=(1.7, 0.9))
REF = dict(color='#9a9a9a', lw=0.7, ls=(0, (1, 2)), zorder=0)


def lin_top(ax, yticks, ylim, show_xlabels):
    ax.set_xlim(FREQ_MIN, FREQ_MAX)
    ax.set_xticks(LIN_TICKS)
    ax.set_ylim(*ylim)
    ax.set_yticks(yticks)
    ax.yaxis.set_major_formatter(FuncFormatter(fmt))
    if not show_xlabels:
        ax.set_xticklabels([])


def log_top(ax, ylim, yticks, logy, show_xlabels):
    ax.set_xlim(0.3, 70)
    ax.set_xticks(LOG_TICKS)
    ax.xaxis.set_major_formatter(FuncFormatter(fmt))
    ax.xaxis.set_minor_formatter(FuncFormatter(lambda v, p: ''))
    if logy:
        ax.set_yscale('log')
        ax.yaxis.set_minor_locator(NullLocator())
    ax.set_ylim(*ylim)
    ax.set_yticks(yticks)
    ax.yaxis.set_major_formatter(FuncFormatter(fmt))
    if not show_xlabels:
        ax.set_xticklabels([])


def family(ax, fam, ylim, yticks, right, show_xlabels, title=None, title_xy=None):
    ax.hlines(0, FREQ_MIN, FREQ_MAX, color='#1c1c1c', lw=1.6, zorder=1)
    for i in range(len(fam) - 1, -1, -1):
        pl(ax, fam[i], color=FAMILY_COLORS[i], lw=1.4, zorder=2 + (len(fam) - i))
    ax.set_xlim(FREQ_MIN, 61.9 if right else FREQ_MAX)
    ax.set_xticks(LIN_TICKS)
    ax.set_ylim(*ylim)
    ax.set_yticks(yticks)
    ax.yaxis.set_major_formatter(FuncFormatter(fmt))
    if not show_xlabels:
        ax.set_xticklabels([])
    if title:
        ax.text(title_xy[0], title_xy[1], title, transform=ax.transAxes,
                ha='right', va='center', fontsize=8.6, color='#111111')


# ---- A, top-left ----
ax = add_ax(81, 367, 5, 101, 'Magnitude [dB]', 48)
ax.axhline(0, **REF)
pl(ax, A_MAG_REMOVED, **DASH)
pl(ax, A_MAG_INTACT, **SOLID)
lin_top(ax, MAG_DB_TICKS, (-50, 10), False)

ax = add_ax(81, 367, 119, 213, 'Phase [cycles]', 47, 'Frequency [kHz]', (243, 240))
ax.axhline(0, **REF)
ax.axhline(-1, **REF)
pl(ax, A_PH_REMOVED, **DASH)
pl(ax, A_PH_INTACT, **SOLID)
lin_top(ax, PH_TICKS, (-1.5, 0.5), True)

# ---- A, top-right ----
ax = add_ax(441, 736, 5, 99, 'Magnitude', 408, log=True)
ax.axhline(1, **REF)
pl(ax, A_LOGMAG_REMOVED, **DASH)
pl(ax, A_LOGMAG_INTACT, **SOLID)
log_top(ax, (0.01, 10), LOGMAG_TICKS, True, False)
handles = [Line2D([], [], color='#111111', lw=1.6),
           Line2D([], [], color='#808080', lw=1.3, ls=(0, (1, 1)))]
ax.legend(handles, ['parsF intact', 'parsF removed'], loc='upper left',
          bbox_to_anchor=((646 - 441) / 295, 1 - (63 - 5) / 94), frameon=False,
          fontsize=6.0, handlelength=2.2, handletextpad=0.8, labelspacing=0.75,
          borderpad=0, borderaxespad=0)

ax = add_ax(441, 736, 117, 214, 'Phase [cycles]', 406, 'Frequency [kHz]', (580, 231), log=True)
ax.axhline(0, **REF)
pl(ax, A_LOGPH_REMOVED, **DASH)
pl(ax, A_LOGPH_INTACT, **SOLID)
log_top(ax, (-0.5, 0.4), LOGPH_TICKS, False, True)
ax.text((451 - 441) / 295, (214 - 203) / 97, 'MU24lear', transform=ax.transAxes,
        fontsize=5.2, va='center', ha='left', color='#111111')

# ---- A, families ----
ax = add_ax(79, 366, 274, 373, 'Magnitude [dB]', 48)
family(ax, A_INT_MAG, (-25, 20), FAM_MAG_TICKS, False, False, 'parsF intact', (1.0, 1 - 23 / 99))
ax = add_ax(79, 366, 389, 487, 'Phase [cycles]', 47, 'Frequency [kHz]', (241, 511))
family(ax, A_INT_PH, (-0.2, 1.0), FAM_PH_TICKS, False, True)

ax = add_ax(442, 738, 277, 374, 'Magnitude [dB]', 410)
family(ax, A_REM_MAG, (-25, 20), FAM_MAG_TICKS, True, False, 'parsF removed', ((727 - 442) / 296, 1 - 20 / 97))
ax = add_ax(442, 738, 391, 488, 'Phase [cycles]', 409, 'Frequency [kHz]', (603, 509))
family(ax, A_REM_PH, (-0.2, 1.0), FAM_PH_TICKS, True, True)

# ---- B, top-left ----
ax = add_ax(81, 366, 575, 661, 'Magnitude [dB]', 49)
ax.axhline(0, **REF)
pl(ax, B_MAG_REMOVED, **DASH)
pl(ax, B_MAG_INTACT, **SOLID)
lin_top(ax, MAG_DB_TICKS, (-50, 10), False)

ax = add_ax(81, 366, 688, 777, 'Phase [cycles]', 47, 'Frequency [kHz]', (243, 802))
ax.axhline(0, **REF)
ax.axhline(-1, **REF)
pl(ax, B_PH_REMOVED, **DASH)
pl(ax, B_PH_INTACT, **SOLID)
lin_top(ax, PH_TICKS, (-1.5, 0.5), True)

# ---- B, top-right ----
ax = add_ax(430, 731, 576, 670, 'Magnitude', 400, log=True)
ax.axhline(1, **REF)
pl(ax, B_LOGMAG_REMOVED, **DASH)
pl(ax, B_LOGMAG_INTACT, **SOLID)
log_top(ax, (0.01, 10), LOGMAG_TICKS, True, False)

ax = add_ax(430, 731, 688, 785, 'Phase [cycles]', 399, 'Frequency [kHz]', (580, 806), log=True)
ax.axhline(0, **REF)
pl(ax, B_LOGPH_REMOVED, **DASH)
pl(ax, B_LOGPH_INTACT, **SOLID)
log_top(ax, (-0.5, 0.4), LOGPH_TICKS, False, True)
ax.text((440 - 430) / 301, (785 - 766) / 97, 'MU24rear', transform=ax.transAxes,
        fontsize=5.2, va='center', ha='left', color='#111111')

# ---- B, families ----
ax = add_ax(78, 364, 833, 930, 'Magnitude [dB]', 47)
family(ax, B_INT_MAG, (-25, 20), FAM_MAG_TICKS, False, False, 'parsF intact', (1.0, 1 - 20 / 97))
ax = add_ax(78, 364, 946, 1044, 'Phase [cycles]', 45, 'Frequency [kHz]', (240, 1068))
family(ax, B_INT_PH, (-0.2, 1.0), FAM_PH_TICKS, False, True)

ax = add_ax(434, 729, 838, 936, 'Magnitude [dB]', 404)
family(ax, B_REM_MAG, (-25, 20), FAM_MAG_TICKS, True, False, 'parsF removed', ((719 - 434) / 295, 1 - 16 / 98))
ax = add_ax(434, 729, 952, 1049, 'Phase [cycles]', 403, 'Frequency [kHz]', (597, 1069))
family(ax, B_REM_PH, (-0.2, 1.0), FAM_PH_TICKS, True, True)

# panel letters
fig.text(9 / W, 1 - 15 / H, 'A', fontsize=17, ha='center', va='center', color='#111111')
fig.text(9 / W, 1 - 575 / H, 'B', fontsize=17, ha='center', va='center', color='#111111')

fig.savefig('out.png', dpi=100, facecolor='white')
